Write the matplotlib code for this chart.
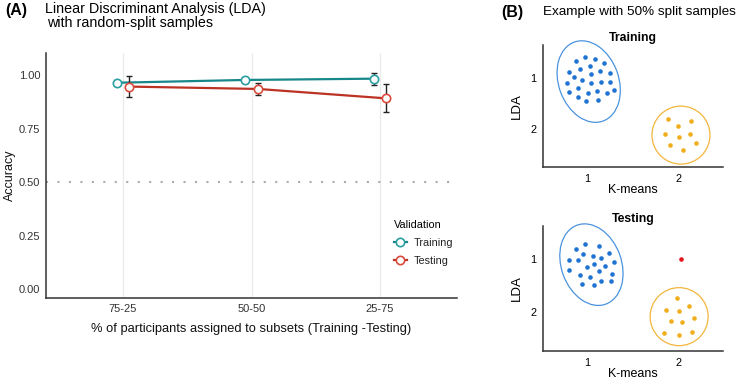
import numpy as np
import matplotlib
matplotlib.use("Agg")
import matplotlib.pyplot as plt
from matplotlib.lines import Line2D
from matplotlib.patches import Ellipse
from matplotlib.transforms import ScaledTranslation

plt.rcParams['font.family'] = ['Liberation Sans', 'DejaVu Sans']

# ---- panel A data ----
splits = ['75-25', '50-50', '25-75']
train_acc = [0.964, 0.977, 0.983]
train_err = [0.006, 0.015, 0.028]
test_acc = [0.946, 0.935, 0.891]
test_err = [0.049, 0.029, 0.065]

# ---- panel B data (cluster positions: K-means x, LDA y) ----
train_blue_x = [0.88, 0.98, 1.09, 1.19, 0.81, 0.92, 1.03, 1.14, 1.25, 0.86, 1.04, 0.78, 0.95,
                1.04, 1.15, 1.25, 0.90, 0.81, 1.01, 1.11, 1.22, 1.30, 0.90, 0.99, 1.12]
train_blue_y = [0.66, 0.59, 0.63, 0.70, 0.88, 0.83, 0.77, 0.86, 0.90, 0.99, 0.93, 1.09, 1.04,
                1.10, 1.08, 1.07, 1.20, 1.27, 1.29, 1.26, 1.29, 1.23, 1.37, 1.45, 1.43]
train_orange_x = [1.89, 2.14, 2.00, 1.86, 2.01, 2.13, 1.91, 2.19, 2.05]
train_orange_y = [1.80, 1.84, 1.94, 2.10, 2.16, 2.10, 2.32, 2.28, 2.41]

test_blue_x = [0.98, 0.88, 1.13, 0.96, 1.07, 1.24, 0.80, 0.90, 1.16, 1.08, 1.30, 1.00, 1.13,
               1.20, 0.81, 0.92, 1.03, 1.27, 0.95, 1.08, 1.16, 1.26]
test_blue_y = [0.71, 0.80, 0.75, 0.89, 0.93, 0.87, 1.01, 1.01, 0.98, 1.09, 1.05, 1.15, 1.22,
               1.12, 1.20, 1.29, 1.34, 1.27, 1.46, 1.48, 1.41, 1.41]
test_orange_x = [1.99, 1.87, 2.01, 2.12, 1.92, 2.04, 2.17, 1.84, 2.01, 2.15]
test_orange_y = [1.74, 1.97, 1.98, 1.89, 2.18, 2.20, 2.11, 2.41, 2.44, 2.39]
test_red_x = [2.03]
test_red_y = [1.00]

# ellipse centres (data) for the two groups in each panel
train_blue_centre = (1.02, 1.07)
train_orange_centre = (2.03, 2.12)
test_blue_centre = (1.05, 1.10)
test_orange_centre = (2.01, 2.09)

TEAL, TEAL_M = '#17878A', '#2A9EA0'
RED, RED_M = '#BC3324', '#DA4B3D'
BLUE, BLUE_E = '#1F74D3', '#4B93DE'
ORANGE, ORANGE_E = '#F0AE1C', '#F2B63C'

fig = plt.figure(figsize=(7.48, 3.8), dpi=100)

# ================= panel A =================
ax = fig.add_axes([46 / 748, 1 - 298 / 380, (457 - 46) / 748, (298 - 53) / 380])
x = np.arange(len(splits))
dodge = 0.05

for xi in x:
    ax.axvline(xi, color='#EBEBEB', lw=0.9, zorder=0)
ax.axhline(0.5, color='#ABABAB', lw=1.5, ls=(0, (1, 4.5)), zorder=1)

for vals, errs, off, lc, mc in [(train_acc, train_err, -dodge, TEAL, TEAL_M),
                                (test_acc, test_err, dodge, RED, RED_M)]:
    xs = x + off
    ax.plot(xs, vals, color=lc, lw=1.6, zorder=2)
    ax.errorbar(xs, vals, yerr=errs, fmt='none', ecolor='#222222', elinewidth=1.0,
                capsize=2.5, capthick=1.0, zorder=3)
    ax.plot(xs, vals, 'o', ms=6, mfc='white', mec=mc, mew=1.2, zorder=4)

ax.set_xlim(-0.6, 2.6)
ax.set_ylim(-0.042, 1.103)
ax.set_xticks(x)
ax.set_xticklabels(splits)
ax.set_yticks([0, 0.25, 0.5, 0.75, 1.0])
ax.set_yticklabels(['0.00', '0.25', '0.50', '0.75', '1.00'])
ax.tick_params(length=0, labelsize=8, labelcolor='#333333', pad=4)
for s in ['top', 'right']:
    ax.spines[s].set_visible(False)
for s in ['left', 'bottom']:
    ax.spines[s].set_color('#333333')
    ax.spines[s].set_linewidth(1.1)
ax.set_ylabel('Accuracy', fontsize=9, color='#111111', labelpad=2)
ax.set_xlabel('% of participants assigned to subsets (Training -Testing)', fontsize=9.3,
              color='#111111', labelpad=7)

handles = [Line2D([], [], color=TEAL, lw=1.6, marker='o', ms=6, mfc='white', mec=TEAL_M, mew=1.2),
           Line2D([], [], color=RED, lw=1.6, marker='o', ms=6, mfc='white', mec=RED_M, mew=1.2)]
leg = fig.legend(handles, ['Training', 'Testing'], title='Validation', loc='upper left',
                 bbox_to_anchor=(384 / 748, 1 - 210 / 380), frameon=False, fontsize=7.8,
                 title_fontsize=7.8, handlelength=1.2, handletextpad=0.6, labelspacing=0.75)
leg._legend_box.align = 'left'
for t in leg.get_texts():
    t.set_color('#222222')

fig.text(5 / 748, 1 - 11 / 380, '(A)', fontsize=11.5, fontweight='bold', va='center')
fig.text(45 / 748, 1 - 9 / 380, 'Linear Discriminant Analysis (LDA)', fontsize=10.3, va='center')
fig.text(47 / 748, 1 - 23 / 380, 'with random-split samples', fontsize=10.3, va='center')

# ================= panel B =================
fig.text(501 / 748, 1 - 12 / 380, '(B)', fontsize=11.5, fontweight='bold', va='center')
fig.text(543 / 748, 1 - 12 / 380, 'Example with 50% split samples', fontsize=9.7, va='center')


def mini_panel(rect, ylim, title, blue, orange, bc, oc, red=None):
    a = fig.add_axes(rect)
    tr = lambda c: fig.dpi_scale_trans + ScaledTranslation(c[0], c[1], a.transData)
    a.add_patch(Ellipse((0, 0), 0.60, 0.84, angle=20, fill=False, ec=BLUE_E, lw=0.9,
                        transform=tr(bc), clip_on=False))
    a.add_patch(Ellipse((0, 0), 0.58, 0.58, fill=False, ec=ORANGE_E, lw=0.9,
                        transform=tr(oc), clip_on=False))
    a.plot(blue[0], blue[1], 'o', color=BLUE, ms=3.3, mec='none', clip_on=False)
    a.plot(orange[0], orange[1], 'o', color=ORANGE, ms=3.3, mec='none', clip_on=False)
    if red is not None:
        a.plot(red[0], red[1], 'o', color='#E8141B', ms=3.3, mec='none')
    a.set_xlim(0.52, 2.49)
    a.set_ylim(*ylim)
    a.set_xticks([1, 2])
    a.set_yticks([1, 2])
    a.tick_params(length=0, labelsize=7.8, pad=5)
    for s in ['top', 'right']:
        a.spines[s].set_visible(False)
    for s in ['left', 'bottom']:
        a.spines[s].set_color('#333333')
        a.spines[s].set_linewidth(1.1)
    a.set_title(title, fontsize=8.8, fontweight='bold', pad=3)
    a.set_xlabel('K-means', fontsize=9, labelpad=0)
    a.set_ylabel('LDA', fontsize=9.5, labelpad=5)
    return a


mini_panel([543 / 748, 1 - 167 / 380, 180 / 748, 122 / 380], (2.745, 0.353), 'Training',
           (train_blue_x, train_blue_y), (train_orange_x, train_orange_y),
           train_blue_centre, train_orange_centre)
mini_panel([543 / 748, 1 - 351 / 380, 180 / 748, 125 / 380], (2.744, 0.364), 'Testing',
           (test_blue_x, test_blue_y), (test_orange_x, test_orange_y),
           test_blue_centre, test_orange_centre, red=(test_red_x, test_red_y))

fig.savefig('out.png', dpi=100)
